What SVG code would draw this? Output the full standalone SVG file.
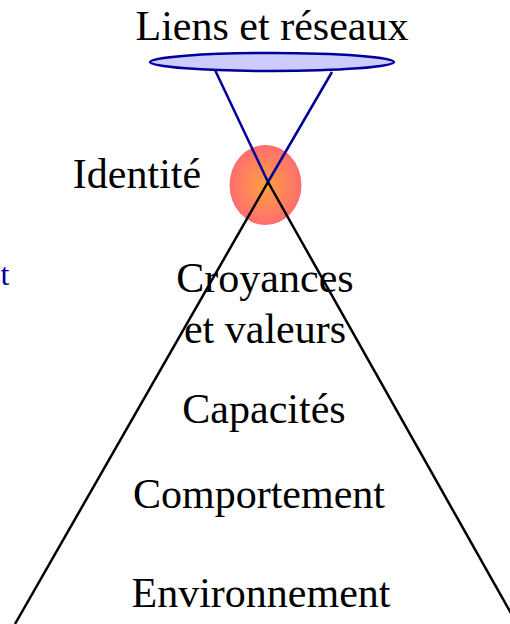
<svg xmlns="http://www.w3.org/2000/svg" width="510" height="624" viewBox="0 0 510 624">
<style>
.t{font-family:"Liberation Serif","Times New Roman",serif;font-size:42px;fill:#000;text-anchor:middle}
.bl{stroke:#000099;stroke-width:2.5;fill:none}
.bk{stroke:#000;stroke-width:2.5;fill:none}
</style>
<defs>
<radialGradient id="g" cx="0.5" cy="0.5" r="0.5">
<stop offset="0" stop-color="#ffa040"/>
<stop offset="1" stop-color="#ff6e6e"/>
</radialGradient>
</defs>
<rect width="510" height="624" fill="#fff"/>
<g id="liens">
<ellipse cx="272" cy="62" rx="122" ry="9" fill="#ccccff" stroke="#000099" stroke-width="2.5"/>
<text class="t" x="272" y="40">Liens et réseaux</text>
</g>
<g id="identite">
<ellipse cx="265.5" cy="185" rx="36" ry="40" fill="url(#g)"/>
<text class="t" x="137" y="188">Identité</text>
</g>
<g id="connectors">
<line class="bl" x1="215" y1="70" x2="268" y2="182"/>
<line class="bl" x1="332" y1="72" x2="268" y2="182"/>
<line class="bk" x1="268" y1="182" x2="15" y2="624"/>
<line class="bk" x1="268" y1="182" x2="517" y2="624"/>
</g>
<g id="croyances"><text class="t" x="265" y="292">Croyances</text><text class="t" x="265" y="343">et valeurs</text></g>
<g id="capacites"><text class="t" x="264" y="423">Capacités</text></g>
<g id="comportement"><text class="t" x="259" y="508">Comportement</text></g>
<g id="environnement"><text class="t" x="261" y="607">Environnement</text></g>
<text x="5" y="285" style="font-family:'Liberation Serif',serif;font-size:32px;fill:#000099;text-anchor:middle">t</text>
</svg>
